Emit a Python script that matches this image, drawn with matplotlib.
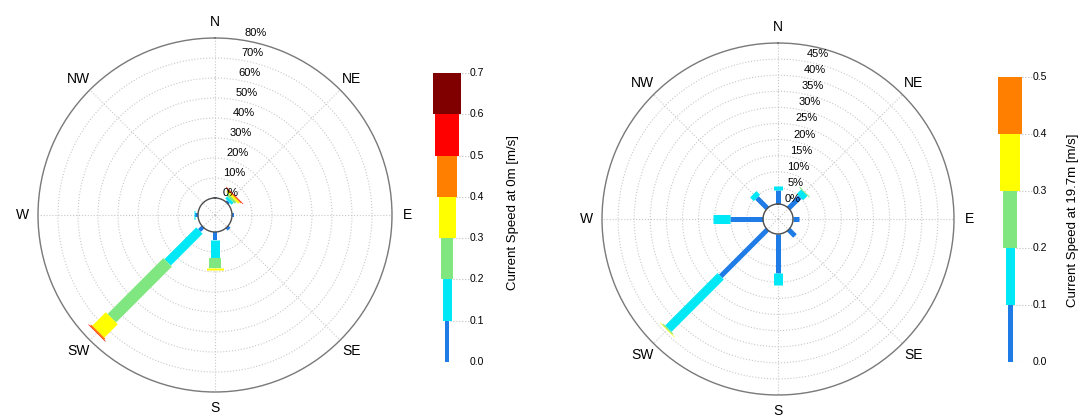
import numpy as np
import matplotlib.pyplot as plt

plt.rcParams['font.family'] = ['Liberation Sans', 'DejaVu Sans']

# directions (deg clockwise from north) and labels
directions = ['N', 'NE', 'E', 'SE', 'S', 'SW', 'W', 'NW']
dir_angles = [0, 45, 90, 135, 180, 225, 270, 315]

# speed bin colours (0-0.1, 0.1-0.2, ... m/s)
speed_colors = ['#1f7be6', '#00e8f5', '#80e680', '#ffff00', '#ff8000', '#ff0000', '#800000']

# frequency (%) per direction, one value per speed bin - surface (0m)
freq_0m = [
    [0.5, 0, 0, 0, 0, 0, 0],         # N
    [1.0, 1.5, 1.2, 1.0, 0.5, 0.3, 0],  # NE
    [1.2, 0, 0, 0, 0, 0, 0],         # E
    [1.5, 0, 0, 0, 0, 0, 0],         # SE
    [4.0, 9.0, 5.0, 1.0, 0, 0, 0],   # S
    [2.5, 22.5, 39.5, 9.5, 0.8, 0.3, 0],  # SW
    [1.5, 0.3, 0, 0, 0, 0, 0],       # W
    [0, 0, 0, 0, 0, 0, 0],           # NW
]
# 19.7m depth, speed bins 0-0.1 ... 0.4-0.5
freq_197m = [
    [4.3, 1.2, 0, 0, 0],     # N
    [5.0, 1.9, 0.3, 0, 0],   # NE
    [1.9, 0, 0, 0, 0],       # E
    [2.8, 0, 0, 0, 0],       # SE
    [12.1, 3.7, 0, 0, 0],    # S
    [20.5, 23.0, 0.4, 0.2, 0],  # SW
    [10.2, 5.3, 0, 0, 0],    # W
    [4.6, 1.6, 0, 0, 0],     # NW
]

# bar widths (px) per speed bin as seen on the legends
widths_0m = [4, 9, 12, 17, 20, 24, 28]
widths_197m = [5, 9, 14, 20, 24]

W, H = 1081, 418
fig = plt.figure(figsize=(W / 100, H / 100), dpi=100)


def px_axes(x0, y0, x1, y1, **kw):
    return fig.add_axes([x0 / W, 1 - y1 / H, (x1 - x0) / W, (y1 - y0) / H], **kw)


def draw_rose(ax, freq, widths, rmax, rstep, rlab_max, inner, R, dx0, dx1):
    ax.set_theta_zero_location('N')
    ax.set_theta_direction(-1)
    ax.set_ylim(-inner, rmax)
    rings = np.arange(0, rmax + 0.01, rstep)
    ax.set_yticks(rings)
    ax.set_yticklabels([])
    ax.set_thetagrids(dir_angles, directions, fontsize=10)
    ax.tick_params(axis='x', pad=1)
    ax.grid(True, linestyle=':', color='#c8c8c8', linewidth=0.8)
    ax.spines['polar'].set_color('#7a7a7a')
    ax.spines['polar'].set_linewidth(1.0)

    # inner circle
    th = np.linspace(0, 2 * np.pi, 200)
    ax.plot(th, np.zeros_like(th), color='#505050', lw=1.0, zorder=5)

    # stacked bars
    for ang, vals in zip(dir_angles, freq):
        t = np.deg2rad(ang)
        start = 0
        for v, c, w in zip(vals, speed_colors, widths):
            if v > 0:
                ax.plot([t, t], [start, start + v], color=c, lw=w * 0.72,
                        solid_capstyle='butt', zorder=4)
            start += v

    # ring labels
    scale = R / (rmax + inner)
    labs = [r for r in rings if r <= rlab_max + 0.01]
    n = len(labs) - 1
    for k, val in enumerate(labs):
        dy = (val + inner) * scale + 5
        dx = dx0 + (dx1 - dx0) * k / n
        ax.text(np.arctan2(dx, dy), np.hypot(dx, dy) / scale - inner,
                f'{val:.0f}%', fontsize=8, ha='center', va='center', zorder=6)


def draw_legend(ax, widths, vmax, label, lab_x, lab_y):
    n = len(widths)
    for i in range(n):
        ax.plot([0, 22], [i * 0.1, i * 0.1], ':', color='#c0c0c0', lw=0.8, zorder=1)
        ax.bar(0, 0.1, bottom=i * 0.1, width=widths[i], color=speed_colors[i],
               edgecolor='none', zorder=2)
    ax.plot([0, 22], [vmax, vmax], ':', color='#c0c0c0', lw=0.8, zorder=1)
    for i in range(n + 1):
        ax.text(23, i * 0.1, f'{i * 0.1:.1f}', fontsize=7.5, ha='left', va='center')
    ax.set_xlim(-30, 30)
    ax.set_ylim(0, vmax)
    ax.axis('off')
    fig.text(lab_x / W, 1 - lab_y / H, label, rotation=90, ha='center',
             va='center', fontsize=9.5)


ax1 = px_axes(38, 38, 392, 392, projection='polar')
draw_rose(ax1, freq_0m, widths_0m, 80, 10, 80, 8.5, 177, 16, 41)

ax2 = px_axes(602, 43, 954, 395, projection='polar')
draw_rose(ax2, freq_197m, widths_197m, 50, 5, 45, 4.66, 176, 15, 40)

cb1 = px_axes(417, 73, 477, 362)
draw_legend(cb1, widths_0m, 0.7, 'Current Speed at 0m [m/s]', 513, 212)

cb2 = px_axes(980, 77, 1040, 362)
draw_legend(cb2, widths_197m, 0.5, 'Current Speed at 19.7m [m/s]', 1073, 220)

fig.savefig('out.png', dpi=100)
